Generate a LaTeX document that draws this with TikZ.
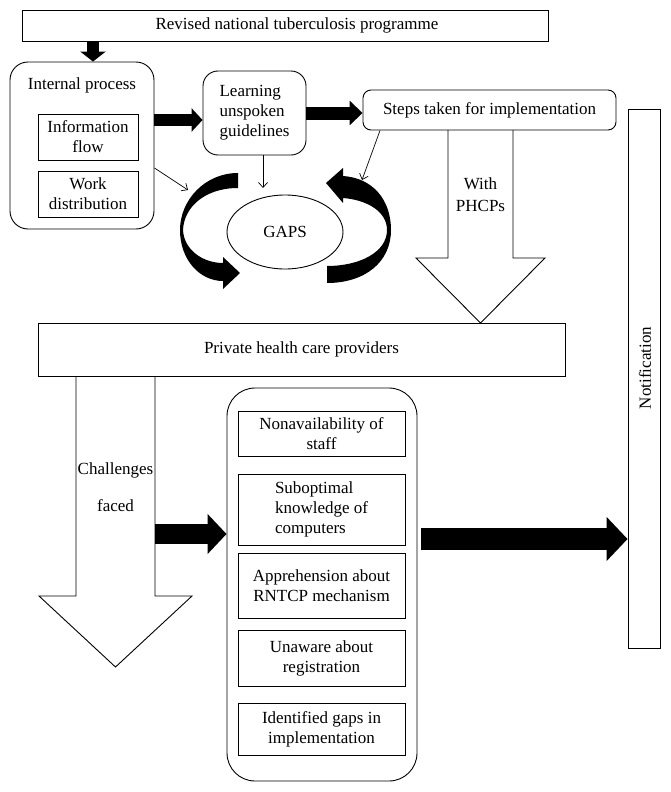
\documentclass[tikz,border=0pt]{standalone}
\usepackage{fontspec}
\setmainfont{Liberation Serif}
\usetikzlibrary{arrows.meta,shapes.geometric,calc}
\begin{document}
\begin{tikzpicture}[x=1pt,y=-1pt,
  txt/.style={font=\fontsize{17}{20}\selectfont, align=center},
  box/.style={draw, line width=0.9pt, inner sep=0pt, txt},
  rbox/.style={box, rounded corners=#1},
  blkarrow/.style n args={3}{line width=#1, -{Triangle[length=#2,width=#3]}},
  thinarr/.style={line width=0.7pt, -{Straight Barb[length=5pt,width=9pt]}},
  hollow/.style={line width=0.9pt, line join=miter}
]
\useasboundingbox (0,0) rectangle (670,792);

% top box
\node[box, minimum width=526pt, minimum height=31pt] (tp) at (285,25.5) {};
\node[txt] (tpt) at (297,25.5) {Revised national tuberculosis programme};

% internal process
\node[rbox=18pt, minimum width=144pt, minimum height=167pt] (ip) at (82,145.5) {};
\node[txt] (ipt) at (82,85) {Internal process};
\node[box, minimum width=100pt, minimum height=46pt] (inf) at (88,137) {Information\\flow};
\node[box, minimum width=100pt, minimum height=46pt] (wd) at (88,194) {Work\\distribution};

% learning
\node[rbox=15pt, minimum width=103pt, minimum height=84pt, align=left] (lg) at (254.5,113) {Learning\\unspoken\\guidelines};

% steps
\node[rbox=8pt, minimum width=253pt, minimum height=40pt] (st) at (489.5,110) {Steps taken for implementation};

% GAPS
\node[draw, ellipse, line width=0.9pt, minimum width=116pt, minimum height=74pt, txt] (gaps) at (285,232) {GAPS};

% notification
\node[box, minimum width=32pt, minimum height=539pt] (ntf) at (644,378.5) {};
\node[txt, rotate=90] (ntft) at (645,368) {Notification};

% private health care providers
\node[box, minimum width=527pt, minimum height=53pt] (phc) at (301.5,349.5) {Private health care providers};

% list
\node[rbox=28pt, minimum width=190pt, minimum height=393pt] (lst) at (322,584.5) {};
\node[box, minimum width=167pt, minimum height=45pt] (l1) at (321.5,433.5) {Nonavailability of\\staff};
\node[box, minimum width=167pt, minimum height=71pt, align=left] (l2) at (321.5,509.5) {Suboptimal\\knowledge of\\computers};
\node[box, minimum width=167pt, minimum height=65pt] (l3) at (321.5,585.5) {Apprehension about\\RNTCP mechanism};
\node[box, minimum width=167pt, minimum height=56pt] (l4) at (321.5,658) {Unaware about\\registration};
\node[box, minimum width=167pt, minimum height=52pt] (l5) at (321.5,729) {Identified gaps in\\implementation};

% hollow arrows
\draw[hollow] (448,130) -- (448,258) -- (416,258) -- (480.5,323) -- (545,258) -- (513,258) -- (513,130);
\node[txt] (wp) at (480.5,195) {With\\[2pt]PHCPs};
\draw[hollow] (76,376) -- (76,596) -- (39,596) -- (115.5,667) -- (192,596) -- (155,596) -- (155,376);
\node[txt] (chal) at (115.5,487.5) {Challenges\\[17pt]faced};

% block arrows
\coordinate (c1) at (93,0);
\draw[blkarrow={12pt}{10pt}{25pt}] (tp.south -| c1) -- (ip.north -| c1);
\coordinate (c2) at (0,120);
\draw[blkarrow={12pt}{11pt}{23pt}] (ip.east |- c2) -- (lg.west |- c2);
\coordinate (c3) at (0,113);
\draw[blkarrow={13pt}{13pt}{24pt}] (lg.east |- c3) -- (st.west |- c3);
\coordinate (c4) at (155,534);
\draw[blkarrow={20pt}{19pt}{39pt}] (c4) -- (lst.west |- c4);
\coordinate (c5) at (421,539);
\draw[blkarrow={22pt}{21pt}{43pt}] (c5) -- (ntf.west |- c5);

% thin arrows
\coordinate (t1) at (188,190);
\draw[thinarr] ([yshift=-22.5pt]ip.east) -- (t1);
\coordinate (t2) at (263,188);
\draw[thinarr] (lg.south -| t2) -- (t2);
\coordinate (t3) at (362,180);
\draw[thinarr] ([xshift=-109.5pt]st.south) -- (t3);

% curved arrows around GAPS
\fill (238,173) .. controls (205,173) and (180,200) .. (180,230)
  .. controls (180,260) and (200,281) .. (223,281)
  -- (223,289) -- (240,273) -- (223,257) -- (223,263)
  .. controls (203,263) and (184,250) .. (183,230)
  .. controls (184,207) and (205,188) .. (238,188) -- cycle;
\fill (327,283) -- (327,266)
  .. controls (360,266) and (387,252) .. (387,230)
  .. controls (387,212) and (368,200) .. (343,198)
  -- (343,203) -- (326,183) -- (343,168) -- (343,176)
  .. controls (373,178) and (391,200) .. (391,230)
  .. controls (391,262) and (365,283) .. (327,283) -- cycle;
\end{tikzpicture}
\end{document}
